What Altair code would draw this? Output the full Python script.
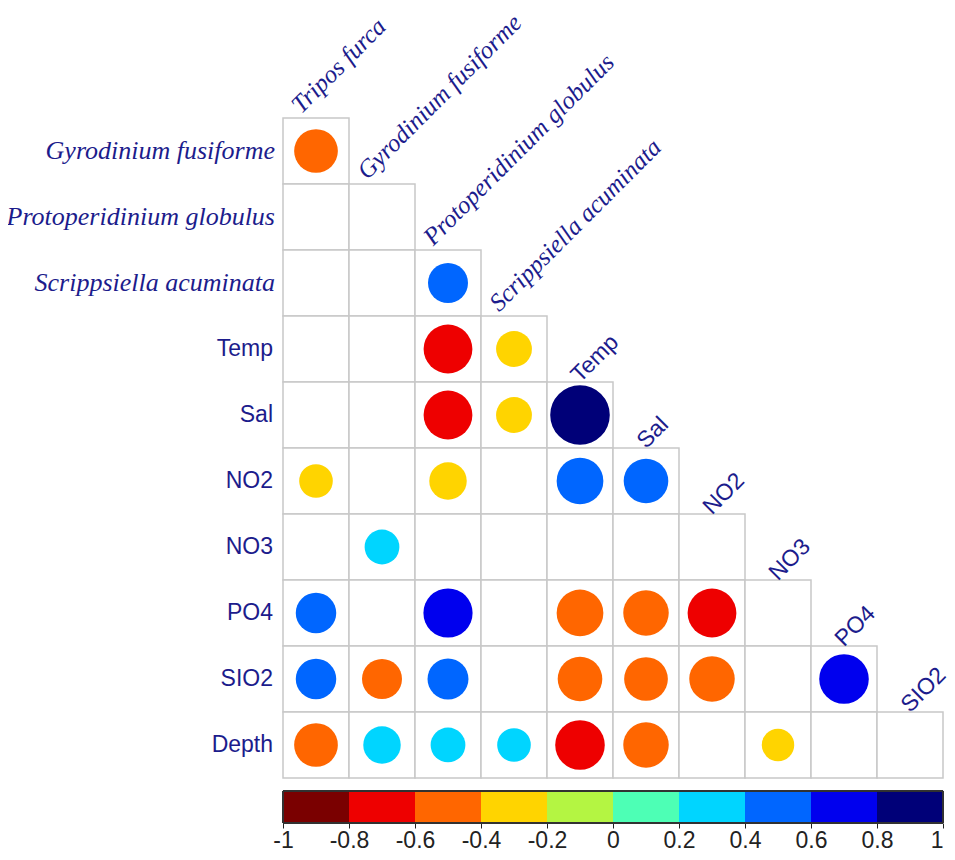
import altair as alt
import pandas as pd

# ---------------- data ----------------
row_names = ["Gyrodinium fusiforme", "Protoperidinium globulus", "Scrippsiella acuminata",
             "Temp", "Sal", "NO2", "NO3", "PO4", "SIO2", "Depth"]
col_names = ["Tripos furca", "Gyrodinium fusiforme", "Protoperidinium globulus",
             "Scrippsiella acuminata", "Temp", "Sal", "NO2", "NO3", "PO4", "SIO2"]
italic_count = 3  # first species names drawn in italic serif

# lower-triangular correlation values (None = not significant / blank)
corr = [
    [-0.49],
    [None, None],
    [None, None, 0.41],
    [None, None, -0.61, -0.33],
    [None, None, -0.61, -0.33, 0.91],
    [-0.29, None, -0.36, None, 0.56, 0.51],
    [None, 0.31, None, None, None, None, None],
    [0.42, None, 0.62, None, -0.56, -0.53, -0.61, None],
    [0.42, -0.41, 0.43, None, -0.51, -0.49, -0.53, None, 0.63],
    [-0.49, 0.36, 0.31, 0.29, -0.63, -0.53, None, -0.27, None, None],
]

bin_lo = [-1.0, -0.8, -0.6, -0.4, -0.2, 0.0, 0.2, 0.4, 0.6, 0.8]
bin_colors = ["#7a0000", "#ee0000", "#ff6600", "#ffd400", "#b4f542",
              "#4dffb5", "#00d5ff", "#0066ff", "#0000ee", "#000078"]
bar_ticks = [-1, -0.8, -0.6, -0.4, -0.2, 0, 0.2, 0.4, 0.6, 0.8, 1]

label_color = "#1c1c8c"

# ---------------- tables ----------------
cells = []
for i, row in enumerate(corr):
    for j, v in enumerate(row):
        cells.append({"row": i, "col": j, "r": v})
cells_df = pd.DataFrame(cells)
circ_df = cells_df.dropna().copy()
circ_df["absr"] = circ_df["r"].abs()

rows_df = pd.DataFrame({"row": list(range(len(row_names))), "name": row_names})
cols_df = pd.DataFrame({"col": list(range(len(col_names))), "name": col_names})
bins_df = pd.DataFrame({"lo": bin_lo, "color": bin_colors})

# ---------------- scales ----------------
y_top = 10.197
y_bot = 10.682
x_scale = alt.Scale(domain=[0, 10], nice=False, zero=False)
y_scale = alt.Scale(domain=[0, y_bot], nice=False, zero=False, reverse=True)
x_axis = alt.Axis(values=[(t + 1) * 5 for t in bar_ticks],
                  labelExpr="toString(round(datum.value*2-10)/10)",
                  title=None, grid=False, domain=False, tickColor="#222",
                  tickSize=5, tickWidth=1, labelFont="Liberation Sans",
                  labelFontSize=23, labelColor="#222", labelPadding=1,
                  labelFlush=False, labelOverlap=False,
                  labelAlign={"condition": {"test": "datum.value >= 10", "value": "right"},
                              "value": "center"})

def X(field):
    return alt.X(field, type="quantitative", scale=x_scale, axis=x_axis)

def Y(field):
    return alt.Y(field, type="quantitative", scale=y_scale, axis=None)

# grid cells
grid = alt.Chart(cells_df).mark_rect(fill="white", stroke="#c8c8c8", strokeWidth=1.5).transform_calculate(
    x0="datum.col", x1="datum.col + 1", y0="datum.row", y1="datum.row + 1"
).encode(x=X("x0"), x2="x1", y=Y("y0"), y2="y1")

# circles (area ~ |r|)
color_scale = alt.Scale(type="threshold", domain=bin_lo[1:], range=bin_colors)
circles = alt.Chart(circ_df).mark_point(filled=True, opacity=1, shape="circle", strokeWidth=0).transform_calculate(
    cx="datum.col + 0.5", cy="datum.row + 0.5"
).encode(
    x=X("cx"), y=Y("cy"),
    color=alt.Color("r:Q", scale=color_scale, legend=None),
    size=alt.Size("absr:Q", scale=alt.Scale(domain=[0, 1], range=[0, 3900]), legend=None),
)

# row labels
row_it = alt.Chart(rows_df).transform_filter(f"datum.row < {italic_count}").transform_calculate(
    cy="datum.row + 0.5"
).mark_text(align="right", baseline="middle", dx=-8, font="Liberation Serif",
            fontStyle="italic", fontSize=26, color=label_color).encode(
    x=alt.datum(0), y=Y("cy"), text="name:N")
row_sans = alt.Chart(rows_df).transform_filter(f"datum.row >= {italic_count}").transform_calculate(
    cy="datum.row + 0.5"
).mark_text(align="right", baseline="middle", dx=-10, font="Liberation Sans",
            fontSize=23, color=label_color).encode(
    x=alt.datum(0), y=Y("cy"), text="name:N")

# column labels (rotated)
col_it = alt.Chart(cols_df).transform_filter(f"datum.col < {italic_count + 1}").transform_calculate(
    cx="datum.col + 0.5", cy="datum.col"
).mark_text(align="left", baseline="alphabetic", angle=315, dx=-8, dy=-13,
            font="Liberation Serif", fontStyle="italic", fontSize=25, color=label_color).encode(
    x=X("cx"), y=Y("cy"), text="name:N")
col_sans = alt.Chart(cols_df).transform_filter(f"datum.col >= {italic_count + 1}").transform_calculate(
    cx="datum.col + 0.5", cy="datum.col"
).mark_text(align="left", baseline="alphabetic", angle=315, dx=-1, dy=1,
            font="Liberation Sans", fontSize=23, color=label_color).encode(
    x=X("cx"), y=Y("cy"), text="name:N")

# colour bar
bar = alt.Chart(bins_df).transform_calculate(
    bx0="(datum.lo + 1) * 5", bx1="(datum.lo + 1.2) * 5"
).mark_rect(strokeWidth=0).encode(
    x=X("bx0"), x2="bx1", y=alt.datum(y_top, scale=y_scale), y2=alt.datum(y_bot),
    color=alt.Color("color:N", scale=None),
)
bar_frame = alt.Chart(bins_df).mark_rect(fill=None, stroke="#333", strokeWidth=1).encode(
    x=alt.datum(0, type="quantitative", scale=x_scale, axis=x_axis), x2=alt.datum(10),
    y=alt.datum(y_top, scale=y_scale), y2=alt.datum(y_bot),
)

chart = alt.layer(grid, circles, row_it, row_sans, col_it, col_sans, bar, bar_frame).properties(
    width=660, height=705,
    autosize=alt.AutoSizeParams(type="none"),
    padding={"left": 275, "top": 110, "right": 4, "bottom": 29},
).configure(background="white").configure_view(stroke=None)

chart.save("out.html", embed_options={"renderer": "svg", "actions": False})
